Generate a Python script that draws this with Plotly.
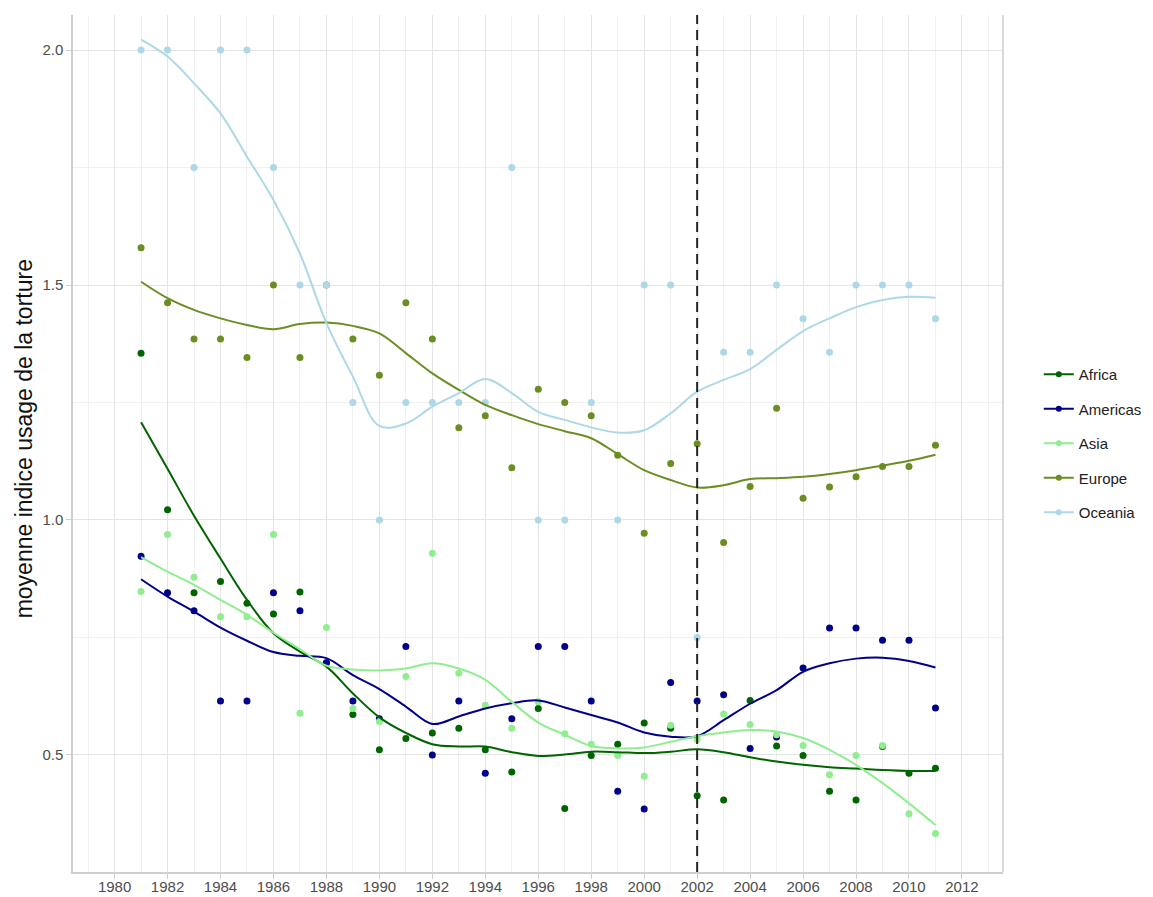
import plotly.graph_objects as go

years = list(range(1981, 2012))

# Yearly means (points)
africa = [1.355, 1.022, 0.845, 0.869, 0.823, 0.80, 0.847, 0.696, 0.586, 0.511,
          0.535, 0.547, 0.557, 0.511, 0.464, 0.599, 0.386, 0.499, 0.523, 0.568,
          0.557, 0.413, 0.404, 0.616, 0.519, 0.499, 0.423, 0.404, 0.518, 0.461, 0.472]
americas = [0.923, 0.845, 0.807, 0.615, 0.615, 0.845, 0.807, 0.696, 0.615, 0.577,
            0.731, 0.500, 0.615, 0.461, 0.577, 0.731, 0.731, 0.615, 0.423, 0.385,
            0.654, 0.615, 0.628, 0.514, 0.538, 0.685, 0.770, 0.770, 0.744, 0.744, 0.600]
asia = [0.848, 0.969, 0.878, 0.794, 0.794, 0.969, 0.589, 0.771, 0.599, 0.571,
        0.667, 0.929, 0.674, 0.606, 0.557, 0.613, 0.545, 0.523, 0.499, 0.455,
        0.563, 0.533, 0.587, 0.565, 0.543, 0.520, 0.458, 0.499, 0.520, 0.375, 0.333]
europe = [1.579, 1.462, 1.385, 1.385, 1.346, 1.500, 1.346, 1.500, 1.385, 1.308,
          1.462, 1.385, 1.196, 1.222, 1.111, 1.278, 1.250, 1.222, 1.138, 0.972,
          1.120, 1.162, 0.952, 1.071, 1.238, 1.046, 1.070, 1.092, 1.114, 1.114, 1.159]
oceania = [2.0, 2.0, 1.75, 2.0, 2.0, 1.75, 1.5, 1.5, 1.25, 1.0,
           1.25, 1.25, 1.25, 1.25, 1.75, 1.0, 1.0, 1.25, 1.0, 1.5,
           1.5, 0.75, 1.357, 1.357, 1.5, 1.428, 1.357, 1.5, 1.5, 1.5, 1.428]

# Smoothed trend values read at each year
africa_s = [1.208, 1.109, 1.009, 0.918, 0.830, 0.759, 0.720, 0.688, 0.631, 0.580,
            0.547, 0.523, 0.518, 0.518, 0.506, 0.498, 0.501, 0.507, 0.506, 0.504,
            0.507, 0.512, 0.506, 0.495, 0.486, 0.479, 0.474, 0.471, 0.468, 0.466, 0.466]
americas_s = [0.874, 0.837, 0.805, 0.771, 0.743, 0.719, 0.711, 0.706, 0.670, 0.640,
              0.603, 0.566, 0.582, 0.599, 0.610, 0.616, 0.601, 0.585, 0.569, 0.548,
              0.539, 0.540, 0.574, 0.609, 0.638, 0.677, 0.695, 0.705, 0.707, 0.700, 0.686]
asia_s = [0.921, 0.890, 0.862, 0.830, 0.798, 0.760, 0.725, 0.690, 0.682, 0.680,
          0.684, 0.695, 0.684, 0.660, 0.613, 0.569, 0.543, 0.519, 0.514, 0.516,
          0.528, 0.540, 0.548, 0.553, 0.550, 0.536, 0.511, 0.479, 0.440, 0.397, 0.351]
europe_s = [1.507, 1.472, 1.447, 1.429, 1.415, 1.406, 1.417, 1.420, 1.413, 1.397,
            1.355, 1.312, 1.277, 1.245, 1.223, 1.204, 1.189, 1.174, 1.140, 1.106,
            1.085, 1.069, 1.074, 1.087, 1.089, 1.092, 1.098, 1.106, 1.116, 1.126, 1.139]
oceania_s = [2.022, 1.986, 1.929, 1.865, 1.773, 1.681, 1.567, 1.419, 1.305, 1.200,
             1.205, 1.241, 1.270, 1.300, 1.270, 1.230, 1.213, 1.197, 1.186, 1.191,
             1.227, 1.273, 1.298, 1.321, 1.362, 1.402, 1.429, 1.453, 1.468, 1.475, 1.473]

regions = ["Africa", "Americas", "Asia", "Europe", "Oceania"]
colors = ["#006400", "#00008B", "#90EE90", "#6B8E23", "#ADD8E6"]
points = [africa, americas, asia, europe, oceania]
smooths = [africa_s, americas_s, asia_s, europe_s, oceania_s]

cutoff_year = 2002
x_ticks = list(range(1980, 2013, 2))
y_ticks = [0.5, 1.0, 1.5, 2.0]
y_title = "moyenne indice usage de la torture"

FONT = "Liberation Sans, Arial, Helvetica, sans-serif"

fig = go.Figure()

for name, col, pts in zip(regions, colors, points):
    fig.add_trace(go.Scatter(x=years, y=pts, mode="markers", name=name,
                             marker=dict(color=col, size=7), showlegend=False,
                             legendgroup=name))
for name, col, sm in zip(regions, colors, smooths):
    fig.add_trace(go.Scatter(x=years, y=sm, mode="lines", name=name,
                             line=dict(color=col, width=2, shape="spline", smoothing=1.0),
                             showlegend=False, legendgroup=name))
for name, col in zip(regions, colors):
    fig.add_trace(go.Scatter(x=[None], y=[None], mode="lines+markers", name=name,
                             line=dict(color=col, width=2), marker=dict(color=col, size=6),
                             legendgroup=name, showlegend=True))

fig.add_vline(x=cutoff_year, line=dict(color="#222222", width=2, dash="10px,6px"))

# right border line of panel
fig.add_shape(type="line", xref="paper", yref="paper", x0=1, x1=1, y0=0, y1=1,
              line=dict(color="#cfcfcf", width=1.5))

# y-axis title as rotated annotation
fig.add_annotation(text=y_title, xref="paper", yref="paper", x=-0.0527, y=0.506,
                   xanchor="center", yanchor="middle", textangle=-90, showarrow=False,
                   borderpad=0, font=dict(size=23, color="#111111", family=FONT))

# page body has an 8px margin, so the figure is sized/offset accordingly
fig.update_layout(
    width=1145, height=889,
    margin=dict(l=65, r=150, t=7, b=25, autoexpand=False),
    paper_bgcolor="white", plot_bgcolor="white",
    font=dict(family=FONT, size=15, color="#4d4d4d"),
    legend=dict(x=1.0385, xanchor="left", y=0.5, yanchor="middle",
                font=dict(size=15, color="#222222"), tracegroupgap=12,
                itemwidth=30, bgcolor="rgba(0,0,0,0)"),
    xaxis=dict(range=[1978.43, 2013.55], tickvals=x_ticks, ticktext=[str(v) for v in x_ticks],
               automargin=False, ticklabelstandoff=-5,
               showgrid=True, gridcolor="#e4e4e4", gridwidth=1.2,
               minor=dict(dtick=1, tick0=1979, showgrid=True, gridcolor="#f0f0f0", gridwidth=1),
               showline=True, linecolor="#cfcfcf", linewidth=1.5,
               ticks="outside", ticklen=5, tickcolor="#cfcfcf", tickwidth=1.2,
               zeroline=False, tickfont=dict(size=15, color="#4d4d4d")),
    yaxis=dict(range=[0.251, 2.0745], tickvals=y_ticks, ticktext=["0.5", "1.0", "1.5", "2.0"],
               automargin=False,
               showgrid=True, gridcolor="#e4e4e4", gridwidth=1.2,
               minor=dict(tickvals=[0.25, 0.75, 1.25, 1.75], showgrid=True, gridcolor="#f0f0f0", gridwidth=1),
               showline=True, linecolor="#cfcfcf", linewidth=1.5,
               ticks="outside", ticklen=5, tickcolor="#cfcfcf", tickwidth=1.2,
               zeroline=False, tickfont=dict(size=15, color="#4d4d4d")),
)

fig.write_html("out.html")
